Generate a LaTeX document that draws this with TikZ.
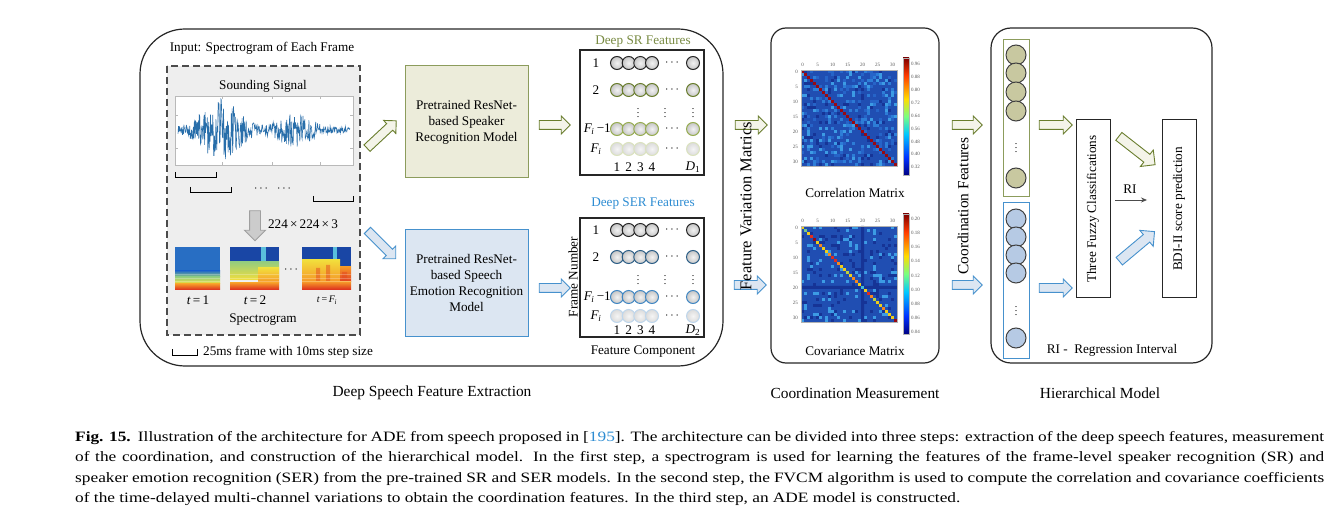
\documentclass[tikz,border=0pt]{standalone}
\usepackage{fontspec}
\setmainfont{Liberation Serif}
\newfontfamily\capfont[FakeStretch=1.21]{Liberation Serif}
\usetikzlibrary{shapes.arrows,arrows.meta}

\definecolor{srline}{RGB}{140,156,92}
\definecolor{srfill}{RGB}{236,236,218}
\definecolor{srdark}{RGB}{105,125,45}
\definecolor{srmid}{RGB}{150,172,80}
\definecolor{srpale}{RGB}{218,226,190}
\definecolor{srtitle}{RGB}{120,138,66}
\definecolor{srball}{RGB}{200,200,160}
\definecolor{serline}{RGB}{70,145,205}
\definecolor{serfill}{RGB}{220,230,242}
\definecolor{serdark}{RGB}{45,95,135}
\definecolor{sermid}{RGB}{65,135,195}
\definecolor{serpale}{RGB}{190,214,236}
\definecolor{sertitle}{RGB}{45,140,210}
\definecolor{serball}{RGB}{182,202,228}
\definecolor{wave}{RGB}{40,110,170}
\definecolor{matbg}{RGB}{32,78,178}
\definecolor{mc6}{RGB}{38,100,200}
\definecolor{mc7}{RGB}{45,125,215}
\definecolor{mc8}{RGB}{60,155,228}
\definecolor{mc9}{RGB}{22,52,150}
\definecolor{jetA}{RGB}{0,0,130}
\definecolor{jetB}{RGB}{0,50,255}
\definecolor{jetC}{RGB}{0,200,255}
\definecolor{jetD}{RGB}{120,255,130}
\definecolor{jetE}{RGB}{255,220,0}
\definecolor{jetF}{RGB}{255,60,0}
\definecolor{jetG}{RGB}{128,0,0}
\definecolor{dY}{RGB}{240,205,25}
\definecolor{dG}{RGB}{120,200,130}
\definecolor{dO}{RGB}{245,135,30}
\definecolor{dR}{RGB}{225,45,30}
\definecolor{dD}{RGB}{150,10,20}
\definecolor{dC}{RGB}{60,190,215}
\definecolor{dL}{RGB}{190,210,60}
\definecolor{spblue}{RGB}{40,110,195}
\definecolor{spdark}{RGB}{25,70,165}
\definecolor{spcyan}{RGB}{90,190,220}
\definecolor{spgreen}{RGB}{150,205,125}
\definecolor{spyellow}{RGB}{242,222,60}
\definecolor{sporange}{RGB}{245,150,40}
\definecolor{spred}{RGB}{220,40,30}

\pgfdeclareverticalshading{jet}{100bp}{color(0bp)=(jetA); color(25bp)=(jetA); color(32.5bp)=(jetB); color(42.5bp)=(jetC); color(50bp)=(jetD); color(57.5bp)=(jetE); color(67.5bp)=(jetF); color(75bp)=(jetG); color(100bp)=(jetG)}

\newcommand\Fsub{\textit{F}\kern-0.5pt\textsubscript{\textit{i}}}

\begin{document}
\begin{tikzpicture}[x=1pt, y=-1pt,
    txt/.style={font=\fontsize{13.2pt}{16pt}\selectfont, inner sep=0pt},
    big/.style={font=\fontsize{15.4pt}{18pt}\selectfont, inner sep=0pt},
    tick/.style={font=\fontsize{5pt}{6pt}\selectfont, inner sep=0pt, text=black!65},
    capt/.style={font=\capfont\fontsize{14.3pt}{20.4pt}\selectfont, inner sep=0pt, text width=1249pt, align=justify},
    panel/.style={draw=black!85, line width=1.2pt},
    model/.style={txt, draw, line width=1pt, minimum width=123pt, align=center},
    feat/.style={draw=black!85, line width=1.2pt, minimum width=124pt, inner sep=0pt},
    fat/.style={single arrow, line width=0.9pt, inner sep=4pt, single arrow head extend=4.5pt, single arrow tip angle=90},
    fatsr/.style={fat, draw=srdark, fill=srfill!60!white},
    fatser/.style={fat, draw=serline, fill=serfill},
    ball/.style={circle, line width=1pt, minimum size=13pt, inner sep=0pt, inner color=gray!10, outer color=gray!45},
    b1/.style={ball, draw=black!85},
    srb2/.style={ball, draw=srdark},
    srb3/.style={ball, draw=srmid},
    srb4/.style={ball, draw=srpale, inner color=gray!8, outer color=gray!28},
    serb2/.style={ball, draw=serdark},
    serb3/.style={ball, draw=sermid},
    serb4/.style={ball, draw=serpale, inner color=gray!8, outer color=gray!28},
    colball/.style={circle, draw=black!75, line width=1pt, minimum size=20pt, inner sep=0pt},
    vbox/.style={txt, draw=black!85, line width=1pt, minimum width=34pt, minimum height=178pt, inner sep=0pt}]
  \useasboundingbox (0,0) rectangle (1344,521);

  % three panels
  \draw[panel, rounded corners=45pt] (140,29) rectangle (723,366);
  \draw[panel, rounded corners=15pt] (771,28) rectangle (939,363);
  \draw[panel, rounded corners=20pt] (991,28) rectangle (1212,363);

  % input: signal and spectrograms
  \node[txt] (input) at (262,48) {Input: Spectrogram of Each Frame};
  \draw[dashed, line width=1.5pt, black!70, fill=gray!13, dash pattern=on 7pt off 4pt] (167,66) rectangle (360,335);
  \node[txt] (sigtitle) at (263,86) {Sounding Signal};
  \draw[gray!55, fill=white] (175,96) rectangle (353,165);
  \foreach \xx in {222,272,320}
    \draw[gray!55] (\xx,96) -- (\xx,99) (\xx,165) -- (\xx,162);
  \foreach \yy in {115,148}
    \draw[gray!55] (175,\yy) -- (178,\yy) (353,\yy) -- (350,\yy);
  \pgfmathsetseed{5}
  \begin{scope}
    \clip (176,97) rectangle (352,164);
    \draw[wave, line width=0.6pt] plot[domain=0:1, samples=380]
      ({178+172*\x},{130+(3+28*exp(-((\x-0.25)*(\x-0.25))/0.02)+14*exp(-((\x-0.68)*(\x-0.68))/0.015))*(2*rnd-1)});
  \end{scope}
  \draw[line width=1pt] (175,172) -- (175,178) -- (216,178) -- (216,172);
  \draw[line width=1pt] (190,187) -- (190,193) -- (231,193) -- (231,187);
  \draw[line width=1pt] (313,196) -- (313,202) -- (353,202) -- (353,196);
  \node[txt] (fdots1) at (261,189) {$\cdots$};
  \node[txt] (fdots2) at (284,189) {$\cdots$};

  \node[fat, draw=gray!75, fill=gray!40, rotate=-90, minimum height=30pt, inner sep=5pt, single arrow head extend=5pt] (down) at (255,223) {};
  \node[txt] (size) at (303,224) {224\,×\,224\,×\,3};

  % spectrogram frames
  \fill[spblue] (175,247) rectangle (220,271);
  \shade[top color=spblue, bottom color=spgreen] (175,271) rectangle (220,277);
  \shade[top color=spgreen, bottom color=spyellow] (175,277) rectangle (220,284);
  \shade[top color=sporange, bottom color=spred] (175,284) rectangle (220,290);
  \fill[spdark] (230,247) rectangle (279,262);
  \fill[spcyan] (261,247) rectangle (266,264);
  \shade[top color=spgreen, bottom color=spyellow] (230,262) rectangle (279,280);
  \shade[top color=spyellow, bottom color=sporange] (258,268) rectangle (279,283);
  \shade[top color=sporange, bottom color=spred] (230,283) rectangle (279,290);
  \fill[spdark] (302,247) rectangle (351,260);
  \fill[spcyan] (333,247) rectangle (337,262);
  \fill[spdark] (340,260) rectangle (351,267);
  \shade[top color=spyellow, bottom color=sporange] (302,260) rectangle (340,282);
  \shade[top color=sporange, bottom color=spred!80!sporange] (340,267) rectangle (351,282);
  \fill[spred!70!sporange, opacity=0.5] (316,268) rectangle (320,282) (326,265) rectangle (330,283) (342,272) rectangle (347,284);
  \shade[top color=sporange, bottom color=spred] (302,282) rectangle (351,290);
  \foreach \yy in {274,278,281} {
    \draw[white, opacity=0.25, line width=0.6pt] (175,\yy) -- (220,\yy) (230,\yy) -- (279,\yy) (302,\yy) -- (351,\yy);
  }
  \node[txt] (sdots) at (291,270) {$\cdots$};
  \node[txt] (t1) at (198,300) {\textit{t}\,=\,1};
  \node[txt] (t2) at (255,300) {\textit{t}\,=\,2};
  \node[txt, font=\fontsize{10pt}{12pt}\selectfont] (tf) at (327,300) {\textit{t}\,=\,\Fsub};
  \node[txt] (spectro) at (263,320) {Spectrogram};
  \draw[line width=1pt] (172,349) -- (172,355) -- (197,355) -- (197,349);
  \node[txt, anchor=west] (legend) at (203,352) {25ms frame with 10ms step size};

  % pretrained models
  \node[fatsr, rotate=43, minimum height=40pt] (a-sr) at (380,136) {};
  \node[fatser, rotate=-45, minimum height=40pt] (a-ser) at (380,243) {};
  \node[model, draw=srline, fill=srfill, minimum height=112pt] (srmodel) at (466.5,122)
    {Pretrained ResNet-\\based Speaker\\Recognition Model};
  \node[model, draw=serline, fill=serfill, minimum height=106pt] (sermodel) at (466.5,283)
    {Pretrained ResNet-\\based Speech\\Emotion Recognition\\Model};
  \node[fatsr, minimum height=31pt] (a-srf) at (552.5,125) {};
  \node[fatser, minimum height=31pt] (a-serf) at (552.5,288) {};

  % deep SR features
  \node[txt, text=srtitle] (srtitle) at (643,42) {Deep SR Features};
  \node[feat, minimum height=125pt] (srbox) at (642,112.5) {};
  \foreach \yy/\st [count=\r] in {63/b1,90/srb2,129/srb3,149/srb4}{
    \foreach \xx [count=\c] in {617,628.7,640.3,652,693}
      \node[\st] (sr-\r-\c) at (\xx,\yy) {};
    \node[txt] (sr-dots-\r) at (672,\yy) {$\cdots$};
  }
  \node[txt] (sr-l1) at (596,63) {1};
  \node[txt] (sr-l2) at (596,90) {2};
  \node[txt, anchor=east] (sr-l3) at (611,129) {\Fsub\,−1};
  \node[txt] (sr-l4) at (596,149) {\Fsub};
  \foreach \xx in {638,665,693}
    \node[txt, font=\fontsize{10pt}{12pt}\selectfont] at (\xx,110) {$\vdots$};
  \foreach \xx [count=\c] in {617,628.7,640.3,652}
    \node[txt] (sr-c\c) at (\xx,167) {\c};
  \node[txt] (sr-d) at (693,167) {\textit{D}\textsubscript{1}};

  % deep SER features
  \node[txt, text=sertitle] (sertitle) at (643,204) {Deep SER Features};
  \node[feat, minimum height=119pt] (serbox) at (642,277.5) {};
  \foreach \yy/\st [count=\r] in {230/b1,257/serb2,297/serb3,316/serb4}{
    \foreach \xx [count=\c] in {617,628.7,640.3,652,693}
      \node[\st] (ser-\r-\c) at (\xx,\yy) {};
    \node[txt] (ser-dots-\r) at (672,\yy) {$\cdots$};
  }
  \node[txt] (ser-l1) at (596,230) {1};
  \node[txt] (ser-l2) at (596,257) {2};
  \node[txt, anchor=east] (ser-l3) at (611,297) {\Fsub\,−1};
  \node[txt] (ser-l4) at (596,316) {\Fsub};
  \foreach \xx in {638,665,693}
    \node[txt, font=\fontsize{10pt}{12pt}\selectfont] at (\xx,277) {$\vdots$};
  \foreach \xx [count=\c] in {617,628.7,640.3,652}
    \node[txt] (ser-c\c) at (\xx,330) {\c};
  \node[txt] (ser-d) at (693,330) {\textit{D}\textsubscript{2}};
  \node[txt, rotate=90] (frameno) at (573,277) {Frame Number};
  \node[txt] (featcomp) at (643,352) {Feature Component};

  % coordination measurement
  \node[fatsr, minimum height=32pt] (a-fvm1) at (749,125) {};
  \node[fatser, minimum height=32pt] (a-fvm2) at (748,285) {};
  \node[txt, rotate=90, font=\fontsize{16.5pt}{19pt}\selectfont] (fvm) at (746,206) {Feature Variation Matrics};

  \pgfmathsetseed{11}
  \fill[matbg] (801,70) rectangle (897,166);
  \foreach \i in {0,...,31}{\foreach \j in {0,...,31}{
    \pgfmathtruncatemacro\k{int(10*rnd)}
    \ifnum\k>5 \fill[mc\k] ({801+3*\j},{70+3*\i}) rectangle ++(3,3); \fi
  }}
  \foreach \i in {0,...,31}
    \fill[dD] ({801+3*\i},{70+3*\i}) rectangle ++(3,3);
  \draw[gray!60, line width=0.4pt] (801,70) rectangle (897,166);
  \shade[shading=jet] (903,58) rectangle (909,175);
  \draw[gray!60, line width=0.4pt] (903,58) rectangle (909,175);
  \foreach \k in {0,5,...,30}{
    \node[tick] (ct-\k) at ({802.5+3*\k},65) {\k};
    \node[tick, anchor=east] (cl-\k) at (798,{71.5+3*\k}) {\k};
  }
  \foreach \v [count=\n from 0] in {0.96,0.88,0.80,0.72,0.64,0.56,0.48,0.40,0.32}
    \node[tick, anchor=west] (cb-\n) at (911,{64+12.9*\n}) {\v};
  \node[txt] (corr) at (855,193) {Correlation Matrix};

  \fill[matbg] (801,226) rectangle (897,322);
  \foreach \i in {0,...,31}{\foreach \j in {0,...,31}{
    \pgfmathtruncatemacro\k{int(10*rnd)}
    \ifnum\k>7 \fill[mc\k] ({801+3*\j},{226+3*\i}) rectangle ++(3,3); \fi
  }}
  \fill[mc9] (801,286) rectangle (897,289) (861,226) rectangle (864,322);
  \foreach \col [count=\i from 0] in {dY,dG,dY,dR,dD,dY,dO,dY,dY,dO,dR,dR,dO,dY,dY,dL,dY,dO,dO,dY,dC,dY,dR,dO,dL,dY,dY,dO,dY,dY,dY,dD}
    \fill[\col] ({801+3*\i},{226+3*\i}) rectangle ++(3,3);
  \draw[gray!60, line width=0.4pt] (801,226) rectangle (897,322);
  \shade[shading=jet] (903,214) rectangle (909,334);
  \draw[gray!60, line width=0.4pt] (903,214) rectangle (909,334);
  \foreach \k in {0,5,...,30}{
    \node[tick] (vt-\k) at ({802.5+3*\k},221) {\k};
    \node[tick, anchor=east] (vl-\k) at (798,{227.5+3*\k}) {\k};
  }
  \foreach \v [count=\n from 0] in {0.20,0.18,0.16,0.14,0.12,0.10,0.08,0.06,0.04}
    \node[tick, anchor=west] (vb-\n) at (911,{219+14.1*\n}) {\v};
  \node[txt] (cov) at (855,351) {Covariance Matrix};

  % hierarchical model
  \node[fatsr, minimum height=30pt] (a-cf1) at (965,125) {};
  \node[fatser, minimum height=30pt] (a-cf2) at (965,285) {};
  \node[txt, rotate=90, font=\fontsize{15.4pt}{18pt}\selectfont] (coordf) at (963,206) {Coordination Features};

  \node[draw=srline, line width=1pt, minimum width=26pt, minimum height=157pt, inner sep=0pt] (srcol) at (1016,118.5) {};
  \node[draw=serline, line width=1pt, minimum width=26pt, minimum height=155pt, inner sep=0pt] (sercol) at (1016,280.5) {};
  \foreach \yy [count=\c] in {55,73,92,111,178}
    \node[colball, fill=srball] (srb-\c) at (1016,\yy) {};
  \foreach \yy [count=\c] in {219,237,255,273,338}
    \node[colball, fill=serball] (serb-\c) at (1016,\yy) {};
  \node[txt, font=\fontsize{10pt}{12pt}\selectfont] (srcdots) at (1016,145) {$\vdots$};
  \node[txt, font=\fontsize{10pt}{12pt}\selectfont] (sercdots) at (1016,308) {$\vdots$};

  \node[fatsr, minimum height=33pt] (a-h1) at (1053.5,125) {};
  \node[fatser, minimum height=33pt] (a-h2) at (1053.5,288) {};
  \node[vbox] (fuzzy) at (1093,209) {\rotatebox{90}{Three Fuzzy Classifications}};
  \node[vbox] (bdi) at (1179,209) {\rotatebox{90}{BDI-II score prediction}};
  \node[fatsr, rotate=-38, minimum height=46pt, inner sep=4.5pt, single arrow head extend=5.5pt] (a-h3) at (1135,149) {};
  \node[fatser, rotate=40, minimum height=46pt, inner sep=4.5pt, single arrow head extend=5.5pt] (a-h4) at (1135,248) {};
  \coordinate (ri-a) at (1115,200);
  \coordinate (ri-b) at (1147,200);
  \draw[-{Stealth[length=6pt, width=5pt]}, black!70, line width=0.8pt] (ri-a) -- (ri-b);
  \node[txt] (ri) at (1130,189) {RI};
  \node[txt] (rilegend) at (1112,350) {RI -\ \ Regression Interval};

  % step labels
  \node[big] (step1) at (432,393) {Deep Speech Feature Extraction};
  \node[big] (step2) at (855,393) {Coordination Measurement};
  \node[big] (step3) at (1100,393) {Hierarchical Model};

  \node[capt, anchor=north west] (caption) at (75,431) {\textbf{Fig. 15.}\enspace Illustration of the architecture for ADE from speech proposed in [\textcolor{sertitle}{195}]. The architecture can be divided into three steps: extraction of the deep speech features, measurement\linebreak
  of the coordination, and construction of the hierarchical model. In the first step, a spectrogram is used for learning the features of the frame-level speaker recognition (SR) and\linebreak
  speaker emotion recognition (SER) from the pre-trained SR and SER models. In the second step, the FVCM algorithm is used to compute the correlation and covariance coefficients\linebreak
  of the time-delayed multi-channel variations to obtain the coordination features. In the third step, an ADE model is constructed.};
\end{tikzpicture}
\end{document}
